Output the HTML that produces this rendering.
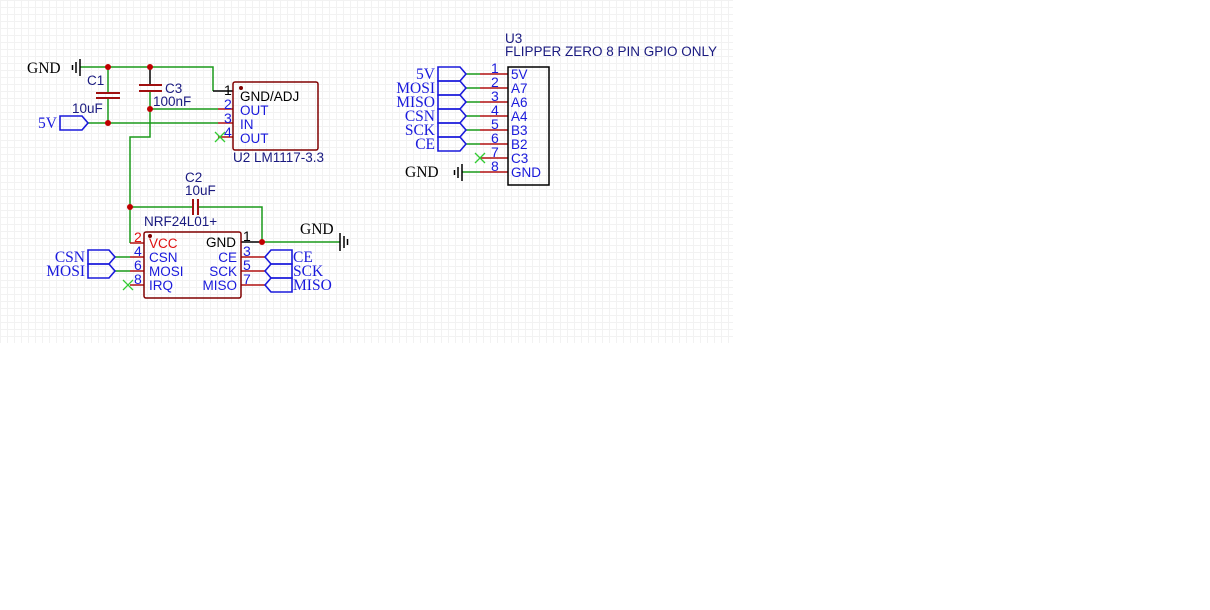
<!DOCTYPE html>
<html><head><meta charset="utf-8"><style>
html,body{margin:0;padding:0;background:#fff;width:1210px;height:610px;overflow:hidden}
svg{display:block}
.s{font-family:"Liberation Sans",sans-serif;font-size:13.5px}
.n{font-family:"Liberation Sans",sans-serif;font-size:14px}
.r{font-family:"Liberation Serif",serif;font-size:15.5px;fill:#1a1adc}
</style></head><body>
<svg width="1210" height="610" viewBox="0 0 1210 610">
<defs>
<pattern id="g" width="7" height="7" patternUnits="userSpaceOnUse">
<path d="M0 0.5H7M0.5 0V7" stroke="#f2f2f2" stroke-width="1" fill="none"/>
</pattern>
</defs>
<rect x="0" y="0" width="733" height="343" fill="url(#g)"/>

<g fill="none" stroke-width="1.5">
<g stroke="#1a9a1a">
<path d="M80 67H213V91"/>
<path d="M108 67V93M108 98V123"/>
<path d="M88 123H218"/>
<path d="M150 109H218"/>
<path d="M150 91V137H130V243"/>
<path d="M130 207H193M198 207H262V242"/>
<path d="M262 242H340"/>
<path d="M115 257H130M115 271H130"/>
<path d="M466 74H480M466 88H480M466 102H480M466 116H480M466 130H480M466 144H480"/>
<path d="M462 172H480"/>
</g>
<g stroke="#000">
<path d="M150 67V85"/>
<path d="M213 91H233"/>
<path d="M241 242H262"/>
</g>
<g stroke="#a01010" stroke-width="2">
<path d="M96 93H120M96 98H120"/>
<path d="M139 85H162M139 91H162"/>
<path d="M193 199V215M198 199V215"/>
</g>
<g stroke="#b01010">
<path d="M218 109H233M218 123H233M218 137H233"/>
<path d="M130 243H144"/>
<path d="M130 257H144M130 271H144M130 285H144"/>
<path d="M241 257H265M241 271H265M241 285H265"/>
<path d="M480 74H508M480 88H508M480 102H508M480 116H508M480 130H508M480 144H508M480 158H508M480 172H508"/>
</g>
<rect x="233" y="82" width="85" height="68" rx="2" stroke="#800000"/>
<rect x="144" y="232" width="97" height="66" rx="2" stroke="#800000"/>
<rect x="508" y="67" width="41" height="118" stroke="#000"/>
<g stroke="#000">
<path d="M80 59V76M76 62V73M72.5 65V70"/>
<path d="M340 233V251M344 236V248M347.5 239V245"/>
<path d="M462 164V181M458 167V178M454.5 170V175"/>
</g>
<g stroke="#33cc33" stroke-width="1.3">
<path d="M215 132L225 142M225 132L215 142"/>
<path d="M123 280L133 290M133 280L123 290"/>
<path d="M475 153L485 163M485 153L475 163"/>
</g>
<g stroke="#1a1adc" stroke-width="1.6">
<path d="M60 116H82L88 123L82 130H60Z"/>
<path d="M88 250H109L115 257L109 264H88Z"/>
<path d="M88 264H109L115 271L109 278H88Z"/>
<path d="M292 250H271L265 257L271 264H292Z"/>
<path d="M292 264H271L265 271L271 278H292Z"/>
<path d="M292 278H271L265 285L271 292H292Z"/>
<path d="M438 67H460L466 74L460 81H438Z"/>
<path d="M438 81H460L466 88L460 95H438Z"/>
<path d="M438 95H460L466 102L460 109H438Z"/>
<path d="M438 109H460L466 116L460 123H438Z"/>
<path d="M438 123H460L466 130L460 137H438Z"/>
<path d="M438 137H460L466 144L460 151H438Z"/>
</g>
</g>
<g fill="#c00000">
<circle cx="108" cy="67" r="3"/><circle cx="150" cy="67" r="3"/>
<circle cx="108" cy="123" r="3"/><circle cx="150" cy="109" r="3"/>
<circle cx="130" cy="207" r="3"/><circle cx="262" cy="242" r="3"/>
</g>
<g fill="#800000"><circle cx="241" cy="88" r="2"/><circle cx="150" cy="236" r="2"/></g>

<g class="r" style="fill:#000"><text x="27" y="73">GND</text><text x="300" y="234">GND</text><text x="405" y="177">GND</text></g>
<g class="r">
<text x="38" y="128">5V</text>
<text x="85" y="262" text-anchor="end">CSN</text><text x="85" y="276" text-anchor="end">MOSI</text>
<text x="293" y="262">CE</text><text x="293" y="276">SCK</text><text x="293" y="290">MISO</text>
<text x="435" y="79" text-anchor="end">5V</text><text x="435" y="93" text-anchor="end">MOSI</text>
<text x="435" y="107" text-anchor="end">MISO</text><text x="435" y="121" text-anchor="end">CSN</text>
<text x="435" y="135" text-anchor="end">SCK</text><text x="435" y="149" text-anchor="end">CE</text>
</g>
<g class="s" fill="#1a1a80">
<text x="87" y="85">C1</text><text x="72" y="113">10uF</text>
<text x="165" y="93">C3</text><text x="153" y="106">100nF</text>
<text x="185" y="182">C2</text><text x="185" y="195">10uF</text>
<text x="233" y="162">U2  LM1117-3.3</text>
<text x="144" y="226">NRF24L01+</text>
<text x="505" y="43">U3</text><text x="505" y="56">FLIPPER ZERO 8 PIN GPIO ONLY</text>
</g>
<g class="s" fill="#000"><text x="240" y="101">GND/ADJ</text><text x="206" y="247">GND</text></g>
<g class="s" fill="#1a1adc">
<text x="240" y="115">OUT</text><text x="240" y="129">IN</text><text x="240" y="143">OUT</text>
<text x="149" y="262">CSN</text><text x="149" y="276">MOSI</text><text x="149" y="290">IRQ</text>
<text x="237" y="262" text-anchor="end">CE</text><text x="237" y="276" text-anchor="end">SCK</text><text x="237" y="290" text-anchor="end">MISO</text>
<text x="511" y="79">5V</text><text x="511" y="93">A7</text><text x="511" y="107">A6</text><text x="511" y="121">A4</text>
<text x="511" y="135">B3</text><text x="511" y="149">B2</text><text x="511" y="163">C3</text><text x="511" y="177">GND</text>
</g>
<g class="n" fill="#1a1adc">
<text x="224" y="109">2</text><text x="224" y="123">3</text><text x="224" y="137">4</text>
<text x="134" y="256">4</text><text x="134" y="270">6</text><text x="134" y="284">8</text>
<text x="243" y="256">3</text><text x="243" y="270">5</text><text x="243" y="284">7</text>
<text x="491" y="73">1</text><text x="491" y="87">2</text><text x="491" y="101">3</text><text x="491" y="115">4</text>
<text x="491" y="129">5</text><text x="491" y="143">6</text><text x="491" y="157">7</text><text x="491" y="171">8</text>
</g>
<text class="n" x="224" y="95" fill="#000">1</text>
<text class="n" x="134" y="242" fill="#e01010">2</text>
<text class="n" x="243" y="241" fill="#000">1</text>
<text class="s" x="149" y="248" fill="#e01010">VCC</text>
</svg>
</body></html>
